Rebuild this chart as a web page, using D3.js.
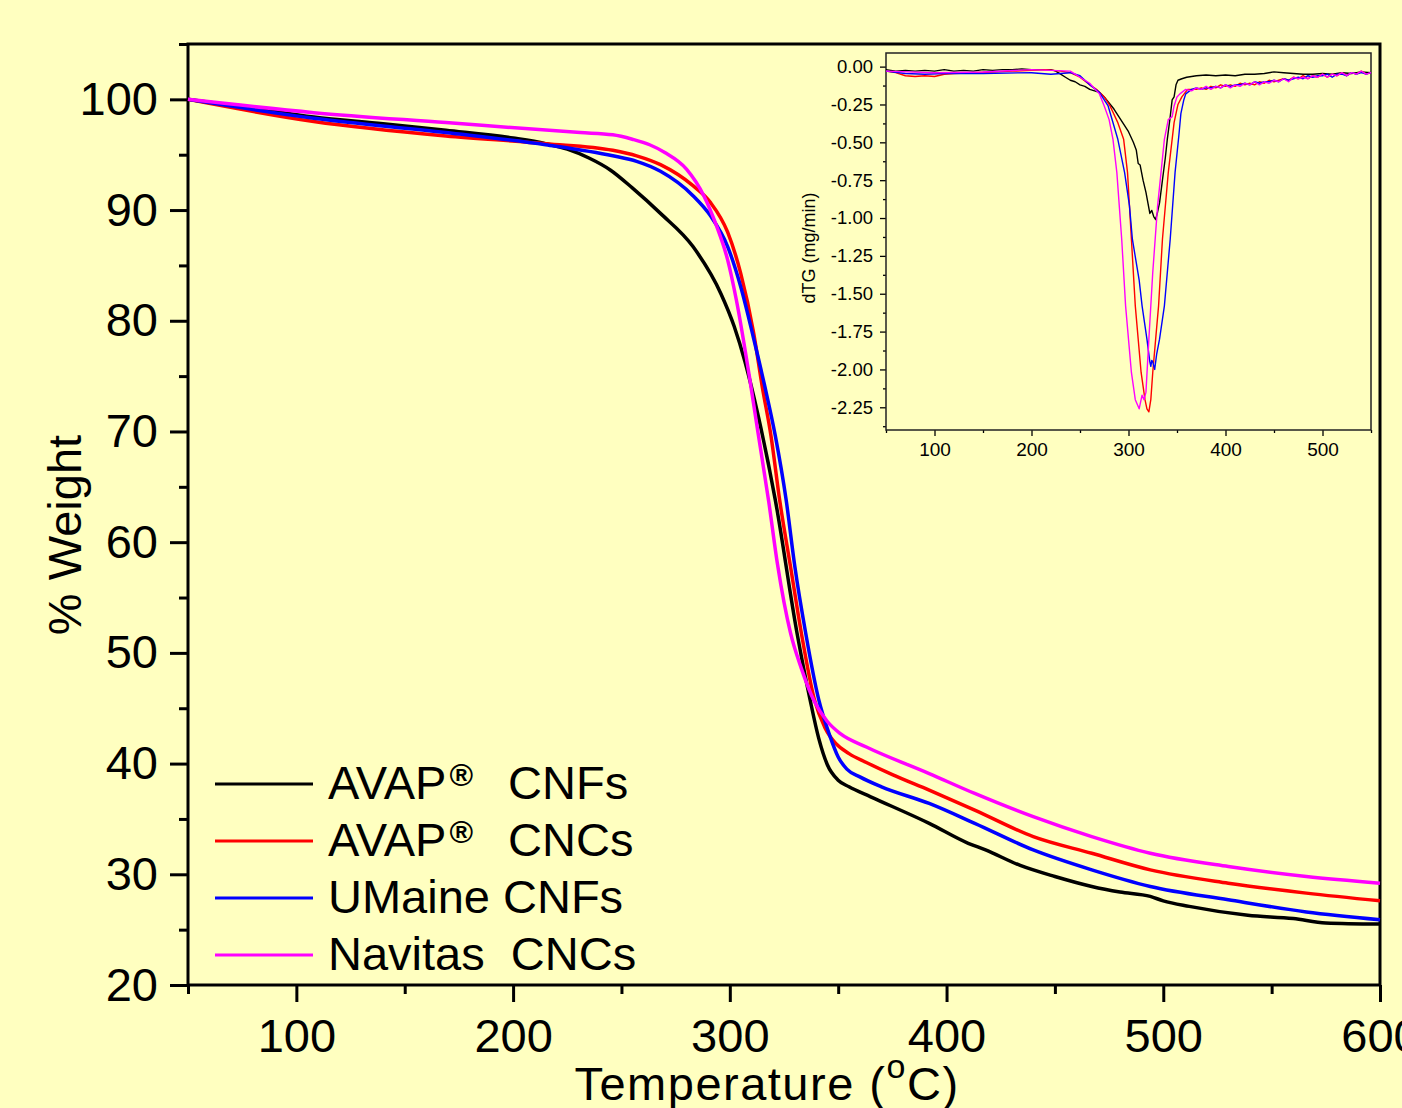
<!DOCTYPE html>
<html><head><meta charset="utf-8">
<script src="https://cdn.jsdelivr.net/npm/d3@7"></script>
<style>
html,body{margin:0;padding:0;background:#ffffc0;}
svg{display:block;}
text{font-family:"Liberation Sans",Arial,sans-serif;fill:#000;white-space:pre;}
</style></head>
<body><svg id="chart" width="1402" height="1108"></svg>
<script>
// ---------- Main TGA data (% weight vs temperature) ----------
const seriesNames = ["AVAP\u00AE  CNFs", "AVAP\u00AE  CNCs", "UMaine CNFs", "Navitas  CNCs"];
const seriesColors = ["#000000", "#ff0000", "#0000ff", "#ff00ff"];

const tgaTempBlack = [50,80,108,140,169,200,215,225,235,245,255,268,283,296,302,307,313,321,331,337,341,345,350,355,365,392,410,418,434,450,467,480,494,500,512,539,560,575,600];
const tgaBlack     = [100,99.2,98.4,97.8,97.2,96.5,96.0,95.5,94.7,93.6,92.0,89.7,86.7,82.4,79.5,76.3,71.5,63.8,51.8,45.8,42.3,39.9,38.5,37.9,37.0,34.6,32.8,32.2,30.8,29.8,28.9,28.4,28.0,27.6,27.1,26.3,26.0,25.6,25.5];

const tgaTempRed = [50,108,169,215,246,257,268,283,291,299,305,311,315,319,323,328,333,339,344,349,355,363,375,392,413,440,467,494,530,566,600];
const tgaRed     = [100,98.0,96.7,96.0,95.4,94.9,94.1,92.2,90.7,88.0,84.3,78.9,74.0,69.6,63.8,57.8,51.8,45.8,43.2,41.8,40.9,40.1,39.0,37.6,35.8,33.4,31.9,30.4,29.2,28.3,27.6];

const tgaTempBlue = [50,108,169,215,246,257,268,283,291,299,305,311,316,321,326,330,335,341,346,350,354,360,370,392,413,440,467,494,530,566,600];
const tgaBlue     = [100,98.3,97.0,95.9,94.9,94.4,93.5,91.3,89.5,86.7,83.1,78.4,74.2,69.6,63.8,57.8,51.8,45.8,42.6,40.6,39.5,38.8,37.9,36.4,34.6,32.2,30.4,28.9,27.7,26.6,25.9];

const tgaTempMagenta = [50,108,169,231,246,255,263,270,280,288,294,299,303,309,313,318,322,328,333,339,345,351,363,392,413,440,467,494,530,566,600];
const tgaMagenta     = [100,98.8,97.9,97.0,96.8,96.4,95.9,95.2,93.7,91.3,88.5,85.5,81.9,75.0,69.9,63.6,58.0,51.8,48.6,45.6,43.8,42.7,41.5,39.1,37.3,35.2,33.4,31.9,30.7,29.8,29.2];

const mainXTicks = [100,200,300,400,500,600];
const mainXMinor = [50,150,250,350,450,550];
const mainYTicks = [20,30,40,50,60,70,80,90,100];
const mainYMinor = [25,35,45,55,65,75,85,95,105];

// ---------- Inset dTG data ----------
const dtgTempBlack = [50,60,70,80,90,100,110,120,130,140,150,160,170,180,190,200,210,220,225,230,235,240,245,250,255,260,265,270,275,280,285,290,295,300,305,308,310,312,315,318,320,322,324,326,328,330,332,335,338,340,343,345,347,349,351,355,360,370,380,390,400,410,420,430,440,450,460,470,480,490,500,510,520,530,540,550];
const dtgBlack     = [-0.02,-0.03,-0.025,-0.03,-0.025,-0.03,-0.02,-0.03,-0.025,-0.03,-0.02,-0.025,-0.02,-0.02,-0.015,-0.02,-0.02,-0.02,-0.03,-0.05,-0.07,-0.09,-0.1,-0.12,-0.13,-0.15,-0.16,-0.17,-0.2,-0.24,-0.28,-0.33,-0.38,-0.43,-0.5,-0.55,-0.64,-0.65,-0.75,-0.83,-0.9,-0.97,-0.95,-0.99,-1.01,-0.96,-0.9,-0.75,-0.6,-0.48,-0.33,-0.22,-0.2,-0.12,-0.09,-0.08,-0.07,-0.06,-0.055,-0.06,-0.055,-0.06,-0.05,-0.05,-0.045,-0.035,-0.04,-0.045,-0.05,-0.05,-0.045,-0.05,-0.04,-0.045,-0.035,-0.04];

const dtgTempRed = [50,60,70,80,90,100,110,120,140,160,180,200,215,230,240,250,260,267,275,281,289,295,299,303,307,313,317,319,321,323,325,328,331,335,341,347,351,355,361,370,375,380,385,390,395,400,405,410,415,420,425,430,435,440,445,450,455,460,465,470,475,480,485,490,495,500,505,510,515,520,525,530,535,540,545,550];
const dtgRed     = [-0.03,-0.04,-0.06,-0.065,-0.06,-0.065,-0.05,-0.045,-0.04,-0.035,-0.03,-0.025,-0.02,-0.03,-0.04,-0.07,-0.12,-0.15,-0.2,-0.26,-0.37,-0.48,-0.7,-1.14,-1.58,-2.02,-2.2,-2.26,-2.28,-2.2,-2.02,-1.8,-1.58,-1.14,-0.7,-0.37,-0.25,-0.2,-0.15,-0.15,-0.14,-0.15,-0.13,-0.14,-0.12,-0.13,-0.12,-0.13,-0.11,-0.12,-0.11,-0.12,-0.1,-0.11,-0.09,-0.1,-0.09,-0.08,-0.09,-0.07,-0.08,-0.06,-0.08,-0.06,-0.07,-0.05,-0.07,-0.05,-0.06,-0.04,-0.06,-0.04,-0.05,-0.03,-0.05,-0.04];

const dtgTempBlue = [50,70,90,110,150,200,210,220,240,250,260,270,279,289,296,301,304,311,314,319,322,323,324,325,327,329,332,337,343,348,352,354,357,359,365,370,375,380,385,390,395,400,405,410,415,420,425,430,435,440,445,450,455,460,465,470,475,480,485,490,495,500,505,510,515,520,525,530,535,540,545,550];
const dtgBlue     = [-0.03,-0.045,-0.05,-0.045,-0.045,-0.04,-0.045,-0.05,-0.04,-0.06,-0.12,-0.17,-0.26,-0.48,-0.7,-0.92,-1.14,-1.41,-1.58,-1.8,-1.95,-1.98,-1.94,-1.95,-2.0,-1.9,-1.8,-1.58,-1.14,-0.7,-0.45,-0.31,-0.22,-0.18,-0.15,-0.14,-0.15,-0.14,-0.14,-0.13,-0.14,-0.12,-0.13,-0.12,-0.12,-0.11,-0.12,-0.1,-0.11,-0.1,-0.1,-0.09,-0.1,-0.08,-0.09,-0.08,-0.07,-0.08,-0.06,-0.07,-0.06,-0.06,-0.05,-0.07,-0.05,-0.05,-0.06,-0.04,-0.05,-0.04,-0.05,-0.04];

const dtgTempMagenta = [50,100,150,200,220,240,245,250,260,270,275,280,284,288,293,297,303,307,311,313,314,316,318,321,325,330,337,341,345,347,350,353,359,365,370,375,380,385,390,395,400,405,410,415,420,425,430,435,440,445,450,455,460,465,470,475,480,485,490,495,500,505,510,515,520,525,530,535,540,545,550];
const dtgMagenta     = [-0.03,-0.04,-0.035,-0.02,-0.025,-0.03,-0.05,-0.07,-0.11,-0.18,-0.26,-0.35,-0.48,-0.7,-1.14,-1.58,-2.02,-2.2,-2.26,-2.2,-2.17,-2.2,-2.15,-1.8,-1.36,-0.92,-0.48,-0.35,-0.33,-0.26,-0.2,-0.18,-0.15,-0.16,-0.14,-0.15,-0.13,-0.15,-0.13,-0.14,-0.12,-0.14,-0.12,-0.13,-0.11,-0.12,-0.1,-0.12,-0.1,-0.11,-0.09,-0.1,-0.08,-0.1,-0.07,-0.08,-0.07,-0.08,-0.06,-0.07,-0.05,-0.07,-0.05,-0.06,-0.04,-0.06,-0.04,-0.05,-0.03,-0.05,-0.04];

const insetXTicks = [100,200,300,400,500];
const insetXMinor = [50,150,250,350,450,550];
const insetYTicks = [0,-0.25,-0.5,-0.75,-1.0,-1.25,-1.5,-1.75,-2.0,-2.25];
const insetYMinor = [-0.125,-0.375,-0.625,-0.875,-1.125,-1.375,-1.625,-1.875,-2.125,-2.375];

// ---------- Drawing ----------
const FONT = "Liberation Sans, Arial, sans-serif";
const svg = d3.select("#chart");
svg.append("rect").attr("width",1402).attr("height",1108).attr("fill","#ffffc0");

const M = {left:188, right:1380, top:44, bottom:985};
const x = d3.scaleLinear().domain([50,600]).range([M.left, M.right]);
const y = d3.scaleLinear().domain([20,105]).range([M.bottom, M.top]);

function styleAxis(g, sw){
  g.select(".domain").remove();
  g.selectAll("line").attr("stroke","#000").attr("stroke-width",sw);
}
// main axes
const gx = svg.append("g").attr("transform",`translate(0,${M.bottom})`)
  .call(d3.axisBottom(x).tickValues(mainXTicks).tickSize(17).tickPadding(17).tickFormat(d3.format("d")));
styleAxis(gx,3);
gx.selectAll("text").attr("font-size",47).attr("font-family",FONT).attr("fill","#000");
const gxm = svg.append("g").attr("transform",`translate(0,${M.bottom})`)
  .call(d3.axisBottom(x).tickValues(mainXMinor).tickSize(9).tickFormat(""));
styleAxis(gxm,3);

const gy = svg.append("g").attr("transform",`translate(${M.left},0)`)
  .call(d3.axisLeft(y).tickValues(mainYTicks).tickSize(18).tickPadding(12).tickFormat(d3.format("d")));
styleAxis(gy,3);
gy.selectAll("text").attr("font-size",47).attr("font-family",FONT).attr("fill","#000");
const gym = svg.append("g").attr("transform",`translate(${M.left},0)`)
  .call(d3.axisLeft(y).tickValues(mainYMinor).tickSize(9).tickFormat(""));
styleAxis(gym,3);

// frame
svg.append("rect").attr("x",M.left).attr("y",M.top).attr("width",M.right-M.left).attr("height",M.bottom-M.top)
  .attr("fill","none").attr("stroke","#000").attr("stroke-width",3);

// curves
const mainSeries = [
  {t:tgaTempBlack, v:tgaBlack},
  {t:tgaTempRed, v:tgaRed},
  {t:tgaTempBlue, v:tgaBlue},
  {t:tgaTempMagenta, v:tgaMagenta}
];
const line = d3.line().x(d=>x(d[0])).y(d=>y(d[1])).curve(d3.curveMonotoneX);
mainSeries.forEach((s,i)=>{
  svg.append("path").datum(s.t.map((t,j)=>[t,s.v[j]]))
    .attr("d",line).attr("fill","none").attr("stroke",seriesColors[i])
    .attr("stroke-width",3.5).attr("stroke-linejoin","round");
});

// axis titles
svg.append("text").attr("transform","translate(81,535) rotate(-90)").attr("text-anchor","middle")
  .attr("font-size",47).text("% Weight");
const xt = svg.append("text").attr("x",767).attr("y",1100).attr("text-anchor","middle")
  .attr("font-size",47).attr("letter-spacing",1.5);
xt.append("tspan").text("Temperature (");
xt.append("tspan").attr("font-size",34).attr("dy",-22).text("o");
xt.append("tspan").attr("dy",22).text("C)");

// legend
const legY = [784, 841, 898, 955];
seriesNames.forEach((name,i)=>{
  svg.append("line").attr("x1",215).attr("x2",313).attr("y1",legY[i]).attr("y2",legY[i])
    .attr("stroke",seriesColors[i]).attr("stroke-width",3);
  const t = svg.append("text").attr("x",328).attr("y",legY[i]+15).attr("font-size",47);
  const parts = name.split("\u00AE");
  if(parts.length>1){
    t.append("tspan").text(parts[0]);
    t.append("tspan").attr("font-size",32).attr("dx",3).attr("dy",-13).attr("font-weight","bold").text("\u00AE");
    t.append("tspan").attr("dx",9).attr("dy",13).text(parts[1]);
  } else t.text(name);
});

// ---------- inset ----------
const I = {left:886, right:1371, top:53, bottom:430};
const ix = d3.scaleLinear().domain([50,550]).range([I.left, I.right]);
const iy = d3.scaleLinear().domain([-2.4,0.09]).range([I.bottom, I.top]);

const igx = svg.append("g").attr("transform",`translate(0,${I.bottom})`)
  .call(d3.axisBottom(ix).tickValues(insetXTicks).tickSize(6).tickPadding(7).tickFormat(d3.format("d")));
styleAxis(igx,1.3);
igx.selectAll("text").attr("font-size",19).attr("font-family",FONT).attr("fill","#000");
const igxm = svg.append("g").attr("transform",`translate(0,${I.bottom})`)
  .call(d3.axisBottom(ix).tickValues(insetXMinor).tickSize(3).tickFormat(""));
styleAxis(igxm,1.3);

const igy = svg.append("g").attr("transform",`translate(${I.left},0)`)
  .call(d3.axisLeft(iy).tickValues(insetYTicks).tickSize(6).tickPadding(7).tickFormat(d3.format(".2f")));
styleAxis(igy,1.3);
igy.selectAll("text").attr("font-size",18.5).attr("font-family",FONT).attr("fill","#000")
  .text(d=>d3.format(".2f")(d).replace("\u2212","-"));
const igym = svg.append("g").attr("transform",`translate(${I.left},0)`)
  .call(d3.axisLeft(iy).tickValues(insetYMinor).tickSize(3).tickFormat(""));
styleAxis(igym,1.3);

svg.append("rect").attr("x",I.left).attr("y",I.top).attr("width",I.right-I.left).attr("height",I.bottom-I.top)
  .attr("fill","none").attr("stroke","#222").attr("stroke-width",1.5);

const insetSeries = [
  {t:dtgTempBlack, v:dtgBlack},
  {t:dtgTempRed, v:dtgRed},
  {t:dtgTempBlue, v:dtgBlue},
  {t:dtgTempMagenta, v:dtgMagenta}
];
const iline = d3.line().x(d=>ix(d[0])).y(d=>iy(d[1])).curve(d3.curveLinear);
insetSeries.forEach((s,i)=>{
  svg.append("path").datum(s.t.map((t,j)=>[t,s.v[j]]))
    .attr("d",iline).attr("fill","none").attr("stroke",seriesColors[i])
    .attr("stroke-width",1.4).attr("stroke-linejoin","round");
});

svg.append("text").attr("transform","translate(815,248) rotate(-90)").attr("text-anchor","middle")
  .attr("font-size",18).text("dTG (mg/min)");
</script></body></html>
